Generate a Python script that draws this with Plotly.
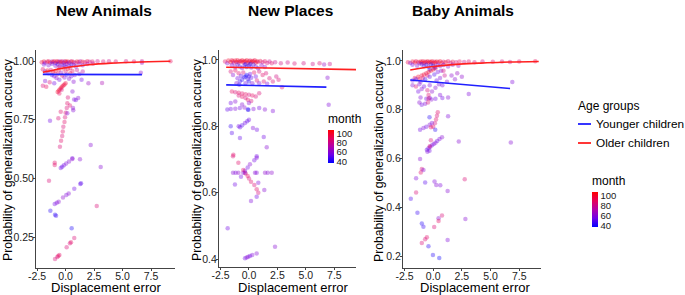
import plotly.graph_objects as go

# ---------------- data ----------------
panel_titles = ["New Animals", "New Places", "Baby Animals"]
x_ticks = [-2.5, 0.0, 2.5, 5.0, 7.5]
x_ticktext = ["-2.5", "0.0", "2.5", "5.0", "7.5"]
y_ticks_na = [0.25, 0.50, 0.75, 1.00]
y_ticktext_na = ["0.25", "0.50", "0.75", "1.00"]
y_ticks_np = [0.4, 0.6, 0.8, 1.0]
y_ticktext_np = ["0.4", "0.6", "0.8", "1.0"]
y_ticks_ba = [0.2, 0.4, 0.6, 0.8, 1.0]
y_ticktext_ba = ["0.2", "0.4", "0.6", "0.8", "1.0"]
month_ticks = [40, 60, 80, 100]
age_groups = ["Younger children", "Older children"]

# (displacement error, probability, month)
na_points = [
    (-2.1,0.995,95),(-1.9,0.998,100),(-1.8,0.993,62),(-1.6,0.997,98),(-1.5,0.999,90),(-1.35,0.994,100),
    (-1.2,0.998,70),(-1.1,0.996,100),(-1.0,0.999,96),(-0.9,0.992,55),(-0.8,0.997,100),(-0.7,0.999,92),
    (-0.6,0.995,100),(-0.5,0.998,65),(-0.4,0.996,100),(-0.3,0.999,88),(-0.2,0.993,100),(-0.1,0.997,58),
    (0.0,0.999,100),(0.1,0.995,95),(0.2,0.998,100),(0.3,0.994,60),(0.45,0.997,100),(0.55,0.999,85),
    (0.7,0.996,100),(0.85,0.993,66),(1.0,0.998,100),(1.15,0.996,90),(1.3,0.999,75),(1.5,0.997,100),
    (1.7,0.995,85),(1.9,0.999,95),(2.1,0.997,80),(2.35,0.998,90),(2.8,0.999,80),(3.3,0.998,85),
    (3.8,0.999,80),(4.4,0.998,85),(5.3,0.999,82),(6.0,0.998,85),(6.7,0.999,80),(6.7,0.993,65),(9.2,0.999,90),
    (-1.9,0.985,55),(-1.5,0.982,60),(-1.2,0.988,50),(-0.9,0.98,58),(-0.7,0.986,45),(-0.5,0.978,62),
    (-0.3,0.984,52),(-0.1,0.981,48),(0.1,0.987,60),(0.3,0.979,55),(0.5,0.985,45),(0.7,0.983,62),
    (0.9,0.977,55),(1.2,0.986,65),(1.5,0.982,58),(1.9,0.987,70),(2.4,0.99,75),(0.0,0.975,60),
    (-0.6,0.972,85),(0.4,0.97,90),
    (-2.0,0.965,90),(-1.8,0.955,55),(-1.6,0.96,100),(-1.5,0.948,60),(-1.3,0.962,85),(-1.2,0.94,50),
    (-1.1,0.952,95),(-1.0,0.935,58),(-0.9,0.957,100),(-0.8,0.928,62),(-0.7,0.945,90),(-0.6,0.962,100),
    (-0.55,0.92,55),(-0.4,0.95,65),(-0.3,0.938,95),(-0.2,0.968,100),(-0.1,0.93,60),(0.0,0.955,85),
    (0.1,0.942,52),(0.2,0.966,100),(0.3,0.925,60),(0.4,0.948,95),(0.5,0.935,58),(0.6,0.958,90),
    (0.8,0.94,62),(1.0,0.962,80),(1.2,0.945,65),(1.5,0.955,75),(-1.8,0.915,60),(-1.4,0.91,85),
    (-1.0,0.905,55),(-2.0,0.895,85),(-1.7,0.89,90),(0.7,0.912,60),(1.4,0.92,55),(2.0,0.905,65),
    (3.2,0.906,70),(6.6,0.95,62),
    (-0.7,0.868,100),(-0.6,0.874,100),(-0.5,0.88,95),(-0.4,0.886,100),(-0.3,0.891,100),(-0.2,0.896,92),
    (-0.1,0.9,100),(0.0,0.905,95),(-0.55,0.862,90),(-0.35,0.878,85),(0.6,0.87,60),
    (0.2,0.845,85),(0.15,0.82,88),(0.1,0.8,85),(0.0,0.78,88),(-0.05,0.76,85),(-0.1,0.74,88),
    (-0.2,0.72,85),(-0.25,0.7,88),(-0.3,0.68,85),(-0.4,0.66,88),(-0.5,0.635,85),
    (1.1,0.842,60),(0.9,0.834,55),(0.65,0.8,62),(0.75,0.836,58),(0.38,0.81,85),(0.67,0.79,60),
    (0.15,0.777,58),(-0.43,0.784,88),(-1.37,0.746,55),(-0.64,0.756,85),(2.2,0.642,60),(0.59,0.586,55),
    (1.26,0.581,60),
    (-0.96,0.567,88),(-0.96,0.557,88),(-0.43,0.544,55),(-0.3,0.55,52),(-0.15,0.556,55),(0.05,0.563,58),
    (0.3,0.572,60),(0.59,0.583,62),(3.08,0.548,60),(-1.46,0.49,85),(-0.96,0.391,55),(-0.78,0.396,58),
    (-0.61,0.4,60),(-0.23,0.418,62),(0.06,0.429,58),(0.27,0.436,60),(0.76,0.456,55),(1.29,0.476,52),
    (1.35,0.479,50),(-1.34,0.362,42),(-0.93,0.345,42),(-0.84,0.341,45),(2.73,0.382,85),(0.53,0.287,40),
    (0.76,0.246,85),(0.47,0.228,90),(0.38,0.223,85),(0.09,0.206,85),(-0.55,0.173,88),(-0.64,0.169,92),
    (-0.73,0.165,85),(-0.93,0.156,85),
]

np_points = [
    (-2.1,0.995,90),(-1.9,0.99,60),(-1.8,0.998,100),(-1.6,0.993,100),(-1.5,0.999,95),(-1.4,0.996,100),
    (-1.3,0.991,70),(-1.2,0.998,100),(-1.1,0.994,100),(-1.0,0.999,98),(-0.9,0.992,100),(-0.8,0.997,100),
    (-0.7,0.995,90),(-0.6,0.999,100),(-0.5,0.993,100),(-0.4,0.997,100),(-0.3,0.995,95),(-0.2,0.999,100),
    (-0.1,0.991,100),(0.0,0.996,100),(0.1,0.998,92),(0.2,0.993,100),(0.3,0.997,100),(0.4,0.995,100),
    (0.5,0.999,95),(0.6,0.992,100),(0.7,0.996,100),(0.8,0.994,88),(1.0,0.997,95),(1.2,0.993,85),
    (1.4,0.996,90),(1.6,0.991,85),(1.8,0.995,80),(2.0,0.99,88),(2.3,0.993,80),(2.8,0.99,82),
    (3.4,0.992,80),(4.0,0.989,85),(4.8,0.99,82),(5.6,0.988,80),(6.2,0.99,85),(6.6,0.986,65),(7.1,0.988,80),
    (-1.5,0.984,55),(-1.2,0.978,60),(-1.0,0.986,50),(-0.8,0.98,45),(-0.6,0.976,55),(-0.4,0.985,48),
    (-0.2,0.979,42),(0.0,0.983,50),(0.2,0.977,55),(0.4,0.986,45),(0.6,0.98,60),(0.8,0.975,52),
    (1.1,0.984,62),(1.4,0.979,58),(-0.3,0.987,45),(0.1,0.988,40),
    (-1.6,0.965,85),(-1.4,0.955,60),(-1.2,0.968,90),(-1.0,0.945,55),(-0.9,0.96,88),(-0.8,0.935,45),
    (-0.7,0.952,50),(-0.6,0.94,42),(-0.5,0.962,85),(-0.4,0.948,45),(-0.3,0.93,55),(-0.2,0.955,40),
    (-0.1,0.942,48),(0.0,0.935,42),(0.1,0.958,55),(0.2,0.946,50),(0.3,0.93,60),(0.45,0.962,90),
    (0.6,0.95,55),(0.7,0.938,85),(-1.1,0.93,60),(-0.85,0.925,50),(-0.3,0.95,40),(0.0,0.95,45),
    (0.9,0.965,85),(1.2,0.955,88),(1.5,0.96,85),(1.8,0.945,85),(2.1,0.935,85),(2.4,0.95,82),
    (2.6,0.94,85),(1.3,0.935,85),(2.9,0.918,85),(0.9,0.93,60),(1.6,0.928,58),(6.9,0.946,60),(7.0,0.865,58),
    (-1.5,0.905,90),(-1.2,0.903,85),(-0.9,0.901,90),(-0.6,0.899,88),(-0.3,0.897,90),(0.0,0.895,85),
    (0.3,0.893,90),(-0.9,0.893,85),(-0.6,0.889,90),(-0.3,0.885,85),(-0.1,0.88,90),(0.2,0.876,85),
    (0.6,0.89,85),(0.9,0.9,85),
    (-1.6,0.87,55),(-1.2,0.875,60),(-1.9,0.851,52),(-1.6,0.852,55),(-1.2,0.853,58),(-0.8,0.855,55),
    (-0.4,0.857,60),(-0.1,0.851,45),(-0.05,0.85,40),(0.4,0.852,58),(0.9,0.855,55),(1.4,0.851,60),
    (2.1,0.846,58),(0.0,0.87,62),(-0.6,0.866,60),
    (0.0,0.82,55),(-0.15,0.815,52),(-0.35,0.81,55),(-0.6,0.803,50),(-0.78,0.797,52),(-0.9,0.8,55),
    (0.35,0.795,58),(0.7,0.79,55),(-1.6,0.8,45),(-1.5,0.78,50),(1.3,0.768,55),(-0.79,0.765,52),
    (-1.4,0.71,85),(1.56,0.737,60),(0.68,0.71,55),
    (-1.37,0.714,88),(-0.93,0.69,88),(-1.4,0.66,60),(-1.17,0.66,58),(-0.93,0.66,62),(-0.5,0.66,60),
    (-0.35,0.66,55),(0.53,0.66,60),(0.68,0.66,58),(1.41,0.66,62),(1.65,0.66,60),(2.0,0.66,62),
    (-0.7,0.648,55),(-0.35,0.666,58),(-0.11,0.676,55),(0.09,0.686,60),(0.47,0.698,55),(0.68,0.705,58),
    (-0.5,0.668,88),(-0.29,0.658,85),(-0.11,0.65,90),(0.0,0.643,85),(0.18,0.633,88),(0.47,0.623,85),
    (0.68,0.61,88),(0.82,0.6,85),
    (-1.23,0.625,55),(0.82,0.63,58),(1.35,0.608,60),(0.68,0.588,55),(0.18,0.575,58),(-1.87,0.493,55),
    (2.29,0.437,60),(-0.35,0.402,55),(-0.2,0.405,58),(-0.06,0.407,60),(0.09,0.409,55),(0.29,0.412,58),
    (0.68,0.417,60),
]

ba_points = [
    (-2.2,0.995,95),(-2.0,0.992,60),(-1.8,0.998,100),(-1.6,0.994,100),(-1.5,0.999,92),(-1.3,0.996,100),
    (-1.2,0.991,65),(-1.1,0.998,100),(-1.0,0.994,100),(-0.9,0.999,95),(-0.8,0.992,100),(-0.7,0.997,100),
    (-0.6,0.995,88),(-0.5,0.999,100),(-0.4,0.993,100),(-0.3,0.997,95),(-0.2,0.995,100),(-0.1,0.999,100),
    (0.0,0.992,100),(0.1,0.997,90),(0.2,0.994,100),(0.3,0.998,100),(0.45,0.995,95),(0.6,0.999,100),
    (0.75,0.993,100),(0.9,0.997,88),(1.1,0.995,100),(1.3,0.999,90),(1.5,0.993,85),(1.7,0.997,95),
    (2.0,0.995,85),(2.3,0.998,90),(2.7,0.996,80),(3.1,0.998,85),(3.6,0.995,82),(4.3,0.998,80),
    (5.2,0.997,85),(6.0,0.998,82),(6.7,0.996,80),(7.5,0.998,85),(8.9,0.999,90),
    (-1.8,0.985,55),(-1.4,0.98,60),(-1.0,0.987,45),(-0.8,0.978,50),(-0.6,0.984,42),(-0.4,0.975,55),
    (-0.2,0.986,45),(0.0,0.98,40),(0.2,0.976,50),(0.4,0.985,55),(0.6,0.979,60),(0.9,0.983,52),
    (1.3,0.977,62),(1.7,0.985,58),(2.2,0.98,65),(0.1,0.97,48),(-0.3,0.965,45),
    (-1.6,0.93,95),(-1.3,0.935,100),(-1.0,0.94,95),(-0.8,0.945,100),(-0.6,0.95,95),(-0.4,0.955,100),
    (-0.2,0.96,95),(0.0,0.965,100),(0.2,0.97,95),(-1.2,0.925,90),(-0.9,0.93,88),(-0.5,0.94,90),
    (-1.8,0.92,55),(-1.5,0.925,50),(-1.1,0.915,58),(-0.7,0.925,45),(-0.3,0.935,52),(0.1,0.945,48),
    (0.4,0.955,55),(0.7,0.96,60),(0.3,0.92,55),(0.6,0.93,58),
    (-1.8,0.9,60),(-1.5,0.895,85),(-1.2,0.905,58),(-1.0,0.885,60),(-0.8,0.895,55),(-0.5,0.88,85),
    (-0.3,0.9,58),(-0.1,0.875,62),(0.2,0.89,60),(0.5,0.905,58),(0.8,0.9,55),(1.2,0.915,60),
    (1.6,0.94,62),(1.9,0.925,60),(2.1,0.95,65),(2.5,0.935,62),(1.0,0.94,80),(0.9,0.96,85),
    (6.9,0.914,58),(3.1,0.865,58),
    (-1.3,0.875,55),(-1.1,0.85,58),(-0.6,0.845,55),(-0.3,0.848,52),(-0.15,0.842,60),(0.2,0.845,55),
    (0.6,0.86,58),(0.8,0.848,55),(1.3,0.85,60),(-0.7,0.825,58),(-1.0,0.82,55),(-1.2,0.83,60),
    (-0.4,0.86,88),(-0.4,0.845,88),(-0.45,0.83,85),(0.4,0.79,88),(0.33,0.775,85),(0.25,0.76,88),
    (0.15,0.745,85),(0.0,0.73,88),
    (-0.32,0.769,42),(1.3,0.773,58),(-1.14,0.718,55),(-0.85,0.725,58),(-0.6,0.73,55),(-0.3,0.738,60),
    (-0.11,0.746,58),(0.18,0.718,42),(-0.2,0.728,88),
    (-0.55,0.636,52),(-0.4,0.642,55),(-0.25,0.648,58),(-0.1,0.654,55),(0.05,0.66,58),(0.2,0.665,60),
    (0.35,0.672,55),(0.55,0.68,58),(0.77,0.687,60),(-0.3,0.65,85),(-0.2,0.675,85),(2.23,0.67,60),
    (6.77,0.666,60),
    (-0.32,0.632,55),(-0.5,0.628,58),(-1.14,0.598,60),(-0.99,0.557,85),(-1.08,0.543,88),(-0.85,0.553,60),
    (-1.49,0.519,58),(-0.7,0.502,50),(0.12,0.506,58),(0.27,0.491,60),(0.62,0.49,58),(2.75,0.515,85),
    (1.26,0.467,60),(-1.49,0.461,85),(-1.95,0.435,48),(-1.37,0.378,45),(0.77,0.366,85),(0.47,0.355,60),
    (0.47,0.344,90),(2.81,0.352,60),(-0.99,0.334,42),(-0.85,0.32,45),(0.09,0.319,85),(-0.55,0.277,88),
    (-0.7,0.269,85),(-0.99,0.254,85),(1.26,0.266,58),(-0.41,0.24,42),(-0.02,0.204,42),(0.53,0.192,38),
]

# fitted lines per age group
na_old_x = [-2.0, -1.0, 0.0, 1.0, 2.0, 4.0, 6.0, 9.2]
na_old_y = [0.952, 0.962, 0.971, 0.978, 0.984, 0.991, 0.995, 0.999]
na_young_x = [-2.0, 6.7]
na_young_y = [0.943, 0.942]
np_old_x = [-2.0, 9.4]
np_old_y = [0.978, 0.971]
np_young_x = [-2.0, 6.8]
np_young_y = [0.925, 0.918]
ba_old_x = [-2.0, 0.0, 2.0, 4.0, 6.0, 9.2]
ba_old_y = [0.963, 0.977, 0.986, 0.991, 0.995, 0.998]
ba_young_x = [-2.0, 6.7]
ba_young_y = [0.922, 0.887]

# ---------------- styling ----------------
FONT = "Liberation Sans, Arial, Helvetica, sans-serif"
month_scale = [[0.0, "rgb(0,0,255)"], [0.25, "rgb(110,0,232)"], [0.5, "rgb(178,0,170)"],
               [0.75, "rgb(230,0,90)"], [1.0, "rgb(255,0,0)"]]
CMIN, CMAX = 36.5, 108
W, H = 685, 295
BLUE, RED = "#1f1fff", "#ff2020"

def px_x(p):
    return p / W

def px_y(p):
    return 1 - p / H

panels = [
    dict(pts=na_points, old=(na_old_x, na_old_y), young=(na_young_x, na_young_y),
         xdom=(36, 175), ydom=(50, 268), xr=[-2.6, 9.6], yr=[0.118, 1.047],
         yt=(y_ticks_na, y_ticktext_na), title_x=104, ytitle_x=8, xtitle_x=106),
    dict(pts=np_points, old=(np_old_x, np_old_y), young=(np_young_x, np_young_y),
         xdom=(219, 356), ydom=(50, 267), xr=[-2.63, 9.4], yr=[0.376, 1.03],
         yt=(y_ticks_np, y_ticktext_np), title_x=290, ytitle_x=197, xtitle_x=293),
    dict(pts=ba_points, old=(ba_old_x, ba_old_y), young=(ba_young_x, ba_young_y),
         xdom=(403, 541), ydom=(50, 268), xr=[-2.63, 9.4], yr=[0.151, 1.045],
         yt=(y_ticks_ba, y_ticktext_ba), title_x=463, ytitle_x=379, xtitle_x=475),
]

# colorbar: (left px, center px, total length px incl. title)
colorbars = [None, (328, 137, 52), (592, 200, 54)]

fig = go.Figure()
annotations = []
shapes = []
layout_axes = {}

for i, p in enumerate(panels):
    n = i + 1
    xa = "x" if n == 1 else f"x{n}"
    ya = "y" if n == 1 else f"y{n}"
    xs = [t[0] for t in p["pts"]]
    ys = [t[1] for t in p["pts"]]
    ms = [t[2] for t in p["pts"]]
    cb = colorbars[i]
    marker = dict(size=4.5, color=ms, colorscale=month_scale, cmin=CMIN, cmax=CMAX,
                  opacity=0.36, line=dict(width=0), showscale=cb is not None)
    if cb is not None:
        marker["colorbar"] = dict(
            x=px_x(cb[0]), xanchor="left", xpad=0, y=px_y(cb[1]), yanchor="middle", ypad=0,
            len=cb[2], lenmode="pixels", thickness=6, outlinewidth=0,
            tickvals=month_ticks, ticks="",
            tickfont=dict(family=FONT, size=9.5, color="#1a1a1a"),
            title=dict(text="month", side="top", font=dict(family=FONT, size=12, color="#000")),
        )
    fig.add_trace(go.Scatter(x=xs, y=ys, mode="markers", marker=marker,
                             xaxis=xa, yaxis=ya, showlegend=False, hoverinfo="skip"))
    fig.add_trace(go.Scatter(x=p["young"][0], y=p["young"][1], mode="lines",
                             line=dict(color=BLUE, width=1.6), name=age_groups[0],
                             showlegend=False, xaxis=xa, yaxis=ya, hoverinfo="skip"))
    fig.add_trace(go.Scatter(x=p["old"][0], y=p["old"][1], mode="lines",
                             line=dict(color=RED, width=1.6, shape="spline"), name=age_groups[1],
                             showlegend=False, xaxis=xa, yaxis=ya, hoverinfo="skip"))

    axis_common = dict(showline=True, linecolor="#444", linewidth=1, ticks="outside",
                       ticklen=2, tickcolor="#444", showgrid=False, zeroline=False,
                       automargin=False,
                       tickfont=dict(family=FONT, size=10.5, color="#222"))
    layout_axes["xaxis" if n == 1 else f"xaxis{n}"] = dict(
        domain=[px_x(p["xdom"][0]), px_x(p["xdom"][1])], range=p["xr"],
        tickvals=x_ticks, ticktext=x_ticktext, anchor=ya, ticklabelstandoff=-4, **axis_common)
    layout_axes["yaxis" if n == 1 else f"yaxis{n}"] = dict(
        domain=[px_y(p["ydom"][1]), px_y(p["ydom"][0])], range=p["yr"],
        tickvals=p["yt"][0], ticktext=p["yt"][1], anchor=xa, ticklabelstandoff=-3, **axis_common)

    annotations.append(dict(text=f"<b>{panel_titles[i]}</b>", x=px_x(p["title_x"]), y=px_y(11),
                            xref="paper", yref="paper", showarrow=False,
                            xanchor="center", yanchor="middle",
                            font=dict(family=FONT, size=15.5, color="#000")))
    annotations.append(dict(text="Probability of generalization accuracy",
                            x=px_x(p["ytitle_x"]), y=px_y(160), xref="paper", yref="paper",
                            showarrow=False, textangle=-90, xanchor="center", yanchor="middle",
                            font=dict(family=FONT, size=12.2, color="#000")))
    annotations.append(dict(text="Displacement error", x=px_x(p["xtitle_x"]), y=px_y(287),
                            xref="paper", yref="paper", showarrow=False,
                            xanchor="center", yanchor="middle",
                            font=dict(family=FONT, size=13, color="#000")))

# legend for the age groups (drawn by hand to match the reference layout)
annotations.append(dict(text="Age groups", x=px_x(576), y=px_y(106), xref="paper", yref="paper",
                        showarrow=False, xanchor="left", yanchor="middle",
                        font=dict(family=FONT, size=12, color="#000")))
for label, colr, ypx in [(age_groups[0], BLUE, 124), (age_groups[1], RED, 143)]:
    shapes.append(dict(type="line", xref="paper", yref="paper",
                       x0=px_x(578), x1=px_x(591), y0=px_y(ypx), y1=px_y(ypx),
                       line=dict(color=colr, width=1.8)))
    annotations.append(dict(text=label, x=px_x(594), y=px_y(ypx), xref="paper", yref="paper",
                            showarrow=False, xanchor="left", yanchor="middle",
                            font=dict(family=FONT, size=11.8, color="#000")))

fig.update_layout(
    template="none",
    width=W, height=H, autosize=False,
    margin=dict(l=0, r=0, t=0, b=0, pad=0),
    paper_bgcolor="white", plot_bgcolor="white",
    font=dict(family=FONT, color="#000"),
    annotations=annotations, shapes=shapes,
    showlegend=False,
    **layout_axes,
)

fig.write_html("out.html", config={"displayModeBar": False},
               post_script="document.body.style.margin='0';document.body.style.padding='0';")
